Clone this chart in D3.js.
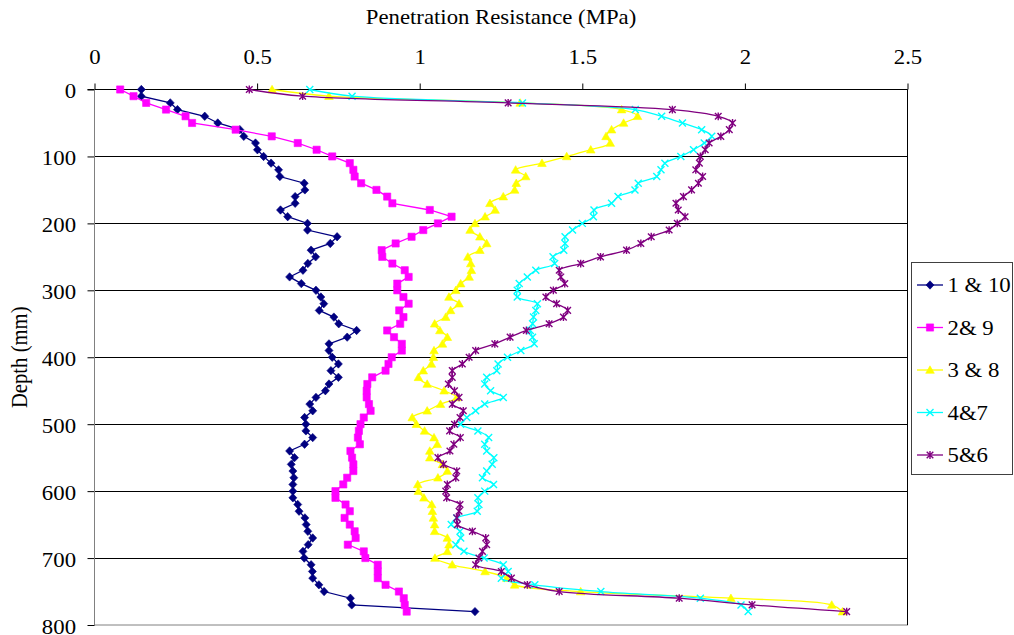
<!DOCTYPE html>
<html>
<head>
<meta charset="utf-8">
<script src="https://cdn.jsdelivr.net/npm/d3@7"></script>
<style>
  html, body { margin: 0; padding: 0; background: #fff; }
  svg { display: block; }
</style>
</head>
<body>
<svg id="chart" width="1014" height="635"></svg>
<script>
// Depth of each reading (mm)
const depths = [0,10,20,30,40,50,60,70,80,90,100,110,120,130,140,150,160,170,180,190,
  200,210,220,230,240,250,260,270,280,290,300,310,320,330,340,350,360,370,380,390,
  400,410,420,430,440,450,460,470,480,490,500,510,520,530,540,550,560,570,580,590,
  600,610,620,630,640,650,660,670,680,690,700,710,720,730,740,750,760,770,780];

// Penetration resistance (MPa) for each pair of positions
const pos1and10 = [0.144,0.144,0.233,0.255,0.339,0.379,0.447,0.459,0.495,0.501,
  0.520,0.543,0.566,0.570,0.645,0.647,0.617,0.617,0.572,0.594,
  0.655,0.655,0.746,0.725,0.666,0.680,0.656,0.641,0.600,0.636,
  0.681,0.696,0.705,0.691,0.736,0.751,0.806,0.777,0.721,0.721,
  0.731,0.750,0.727,0.750,0.721,0.710,0.681,0.662,0.671,0.646,
  0.650,0.650,0.671,0.646,0.600,0.615,0.605,0.610,0.613,0.610,
  0.610,0.610,0.625,0.629,0.647,0.651,0.656,0.671,0.657,0.641,
  0.645,0.666,0.670,0.671,0.690,0.706,0.787,0.791,1.170];

const pos2and9 = [0.079,0.120,0.159,0.220,0.280,0.300,0.434,0.545,0.625,0.683,
  0.731,0.785,0.796,0.800,0.820,0.867,0.900,0.916,1.031,1.098,
  1.056,1.011,0.975,0.926,0.883,0.885,0.916,0.954,0.966,0.931,
  0.931,0.950,0.966,0.937,0.950,0.940,0.900,0.921,0.945,0.945,
  0.914,0.904,0.895,0.854,0.839,0.837,0.837,0.844,0.849,0.828,
  0.818,0.813,0.810,0.816,0.787,0.792,0.796,0.796,0.777,0.765,
  0.741,0.741,0.772,0.785,0.769,0.785,0.800,0.803,0.779,0.828,
  0.833,0.871,0.871,0.871,0.895,0.936,0.951,0.954,0.960];

const pos3and8 = [0.546,0.721,1.309,1.621,1.670,1.627,1.590,1.573,1.586,1.526,
  1.452,1.376,1.295,1.326,1.297,1.292,1.257,1.216,1.232,1.201,
  1.170,1.155,1.185,1.206,1.185,1.148,1.157,1.159,1.152,1.126,
  1.111,1.090,1.121,1.095,1.080,1.046,1.062,1.085,1.070,1.044,
  1.042,1.036,1.011,0.996,1.023,1.075,1.114,1.064,1.023,0.977,
  0.990,1.015,1.044,1.054,1.031,1.031,1.070,1.085,1.056,0.994,
  0.996,1.013,1.037,1.039,1.042,1.046,1.046,1.085,1.090,1.085,
  1.047,1.100,1.201,1.268,1.292,1.495,1.957,2.267,2.300];

const pos4and7 = [0.662,0.792,1.316,1.663,1.744,1.808,1.867,1.898,1.875,1.842,
  1.803,1.754,1.742,1.729,1.672,1.662,1.610,1.590,1.536,1.534,
  1.500,1.470,1.447,1.447,1.443,1.410,1.415,1.357,1.331,1.306,
  1.300,1.300,1.362,1.357,1.350,1.347,1.340,1.347,1.352,1.311,
  1.270,1.241,1.237,1.206,1.200,1.218,1.257,1.200,1.172,1.145,
  1.126,1.179,1.212,1.200,1.206,1.228,1.223,1.206,1.193,1.227,
  1.200,1.179,1.182,1.177,1.114,1.097,1.124,1.126,1.111,1.136,
  1.198,1.257,1.272,1.251,1.354,1.557,1.863,1.988,2.010];

const pos5and6 = [0.476,0.640,1.272,1.777,1.918,1.962,1.952,1.926,1.890,1.878,
  1.863,1.860,1.849,1.870,1.857,1.836,1.811,1.788,1.795,1.816,
  1.792,1.767,1.712,1.680,1.636,1.556,1.495,1.429,1.434,1.446,
  1.411,1.388,1.421,1.455,1.442,1.398,1.328,1.278,1.231,1.172,
  1.152,1.131,1.100,1.100,1.088,1.107,1.121,1.100,1.134,1.124,
  1.107,1.092,1.125,1.105,1.093,1.056,1.073,1.114,1.111,1.085,
  1.080,1.083,1.124,1.121,1.114,1.116,1.162,1.203,1.206,1.193,
  1.182,1.172,1.251,1.282,1.331,1.429,1.798,2.022,2.313];

const seriesNames = ["1 & 10", "2& 9", "3 & 8", "4&7", "5&6"];
const xTicks = [0, 0.5, 1, 1.5, 2, 2.5];
const yTicks = [0, 100, 200, 300, 400, 500, 600, 700, 800];

// Per-series styling
const styles = [
  { values: pos1and10, color: "#000080", marker: "diamond", smooth: false },
  { values: pos2and9,  color: "#FF00FF", marker: "square",  smooth: false },
  { values: pos3and8,  color: "#FFFF00", marker: "triangle", smooth: true },
  { values: pos4and7,  color: "#00FFFF", marker: "cross",   smooth: true },
  { values: pos5and6,  color: "#800080", marker: "star",    smooth: true }
];

const FONT = "'Liberation Serif', 'Times New Roman', serif";
const FONT_SIZE = "20.7px";
const WIDEN = 1.1;   // glyphs are drawn slightly wide

const svg = d3.select("#chart");
const plotLeft = 94.5, plotRight = 907.5, plotTop = 89.5, plotBottom = 625;

const x = d3.scaleLinear().domain([0, 2.5]).range([plotLeft, plotRight]);
const y = d3.scaleLinear().domain([0, 800]).range([plotTop, plotBottom]);

function styleText(sel) {
  sel.style("font-family", FONT).style("font-size", FONT_SIZE).attr("fill", "#000");
}

// Plot frame
svg.append("rect")
  .attr("x", plotLeft).attr("y", plotTop)
  .attr("width", plotRight - plotLeft).attr("height", plotBottom - plotTop)
  .attr("fill", "#fff").attr("stroke", "#808080").attr("stroke-width", 1);

// Horizontal gridlines
svg.append("g").selectAll("line")
  .data(yTicks.filter(d => d > 0 && d < 800))
  .join("line")
  .attr("x1", plotLeft).attr("x2", plotRight)
  .attr("y1", d => Math.round(y(d)) + 0.5).attr("y2", d => Math.round(y(d)) + 0.5)
  .attr("stroke", "#000").attr("stroke-width", 1);

// Right edge and top axis line
svg.append("line").attr("x1", plotRight).attr("x2", plotRight)
  .attr("y1", plotTop).attr("y2", plotBottom).attr("stroke", "#000");
svg.append("line").attr("x1", plotLeft - 7).attr("x2", plotRight)
  .attr("y1", plotTop).attr("y2", plotTop).attr("stroke", "#000");

// Axes
const ySpacing = 7 + 11.5;
const xAxis = svg.append("g")
  .attr("transform", `translate(0,${plotTop})`)
  .call(d3.axisTop(x).tickValues(xTicks).tickSize(6).tickPadding(19.5)
    .tickFormat(d3.format("")));
const yAxis = svg.append("g")
  .attr("transform", `translate(${plotLeft},0)`)
  .call(d3.axisLeft(y).tickValues(yTicks).tickSize(7).tickPadding(11.5));
[xAxis, yAxis].forEach(g => {
  g.attr("font-family", null).attr("font-size", null);
  g.select(".domain").remove();
  g.selectAll("line").attr("stroke", "#000");
  g.selectAll("text").call(styleText);
});
xAxis.selectAll("text").attr("transform", `scale(${WIDEN},1)`);
yAxis.selectAll("text")
  .attr("x", -ySpacing / WIDEN)
  .attr("dy", "0.41em")
  .attr("transform", `scale(${WIDEN},1)`);
yAxis.append("line").attr("x1", 0).attr("x2", 0)
  .attr("y1", plotTop).attr("y2", plotBottom).attr("stroke", "#808080");

// Axis titles
svg.append("text")
  .attr("transform", `translate(${(plotLeft + plotRight) / 2},24) scale(${WIDEN},1)`)
  .attr("text-anchor", "middle")
  .call(styleText)
  .text("Penetration Resistance (MPa)");
svg.append("text")
  .attr("transform", `translate(27,${(plotTop + plotBottom) / 2}) rotate(-90) scale(1,${WIDEN})`)
  .attr("text-anchor", "middle")
  .call(styleText)
  .text("Depth (mm)");

// Marker shapes
function markerPath(kind) {
  switch (kind) {
    case "diamond": return "M0,-4.2L4,0L0,4.2L-4,0Z";
    case "square": return "M-3.6,-3.6H3.6V3.6H-3.6Z";
    case "triangle": return "M0,-4.2L4.3,3.3L-4.3,3.3Z";
    case "cross": return "M-3.5,-3.5L3.5,3.5M-3.5,3.5L3.5,-3.5";
    case "star": return "M-3.3,-3.3L3.3,3.3M-3.3,3.3L3.3,-3.3M0,-3.9V3.9";
  }
}
function drawMarkers(sel, kind, color) {
  const filled = kind === "diamond" || kind === "square" || kind === "triangle";
  sel.attr("d", markerPath(kind))
    .attr("fill", filled ? color : "none")
    .attr("stroke", color)
    .attr("stroke-width", filled ? 0.6 : 1.4);
}

// Series lines and markers
const plot = svg.append("g");
styles.forEach(s => {
  const pts = depths.map((d, i) => [s.values[i], d]);
  const line = d3.line()
    .x(p => x(p[0])).y(p => y(p[1]))
    .curve(s.smooth ? d3.curveCatmullRom.alpha(0.5) : d3.curveLinear);
  plot.append("path")
    .datum(pts)
    .attr("d", line)
    .attr("fill", "none")
    .attr("stroke", s.color)
    .attr("stroke-width", 1.3);
  plot.append("g").selectAll("path")
    .data(pts)
    .join("path")
    .attr("transform", p => `translate(${x(p[0])},${y(p[1])})`)
    .call(sel => drawMarkers(sel, s.marker, s.color));
});

// Legend
const legend = svg.append("g");
legend.append("rect")
  .attr("x", 911.5).attr("y", 262.5).attr("width", 101).attr("height", 212)
  .attr("fill", "#fff").attr("stroke", "#404040").attr("stroke-width", 1);
seriesNames.forEach((name, i) => {
  const cy = 285 + i * 42.5;
  const s = styles[i];
  legend.append("line")
    .attr("x1", 917).attr("x2", 943).attr("y1", cy).attr("y2", cy)
    .attr("stroke", s.color).attr("stroke-width", 1.3);
  legend.append("path")
    .attr("transform", `translate(930,${cy})`)
    .call(sel => drawMarkers(sel, s.marker, s.color));
  legend.append("text")
    .attr("transform", `translate(947.5,${cy + 7}) scale(${WIDEN},1)`)
    .call(styleText)
    .text(name);
});
</script>
</body>
</html>
